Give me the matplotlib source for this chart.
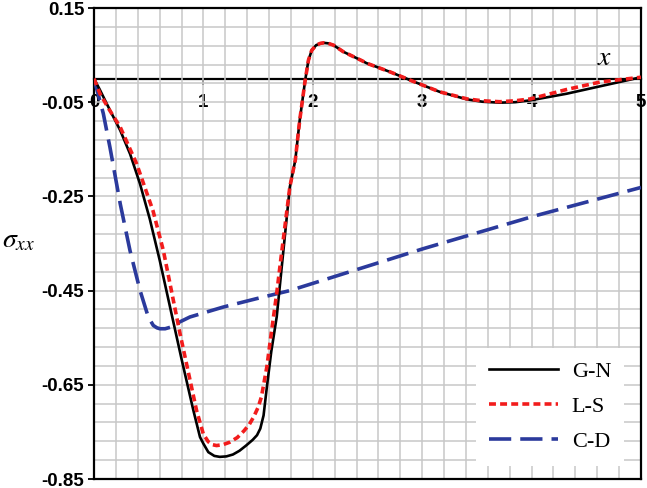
import numpy as np
import matplotlib
matplotlib.use("Agg")
import matplotlib.pyplot as plt

plt.rcParams["mathtext.fontset"] = "stix"
plt.rcParams["lines.scale_dashes"] = False

# G-N
gn_x = [0.0, 0.05, 0.146, 0.24, 0.33, 0.42, 0.51, 0.60, 0.70, 0.80, 0.908,
        0.969, 1.0, 1.045, 1.10, 1.15, 1.21, 1.27, 1.33, 1.39, 1.45, 1.49,
        1.52, 1.55, 1.58, 1.62, 1.67, 1.716, 1.79, 1.84, 1.88, 1.93, 1.96,
        1.99, 2.03, 2.07, 2.10, 2.14, 2.19, 2.28, 2.45, 2.49, 2.71, 2.92,
        3.16, 3.41, 3.55, 3.71, 3.85, 3.99, 4.32, 4.63, 5.0]
gn_y = [0.0, -0.022, -0.067, -0.11, -0.16, -0.223, -0.298, -0.385, -0.49,
        -0.595, -0.704, -0.761, -0.775, -0.793, -0.801, -0.803, -0.802,
        -0.798, -0.790, -0.779, -0.767, -0.757, -0.743, -0.715, -0.655,
        -0.580, -0.506, -0.40, -0.23, -0.173, -0.089, -0.004, 0.039, 0.060,
        0.071, 0.075, 0.076, 0.075, 0.071, 0.057, 0.038, 0.033, 0.014,
        -0.006, -0.028, -0.044, -0.049, -0.051, -0.050, -0.046, -0.032,
        -0.016, 0.003]

# L-S
ls_x = [0.0, 0.055, 0.14, 0.24, 0.39, 0.54, 0.634, 0.786, 0.938, 1.0, 1.045,
        1.08, 1.12, 1.18, 1.24, 1.31, 1.37, 1.42, 1.46, 1.50, 1.53, 1.58,
        1.62, 1.67, 1.71, 1.79, 1.84, 1.88, 1.93, 1.96, 1.99, 2.03, 2.07,
        2.10, 2.14, 2.19, 2.28, 2.45, 2.49, 2.71, 2.92, 3.16, 3.41, 3.55,
        3.71, 3.85, 3.99, 4.32, 4.63, 5.0]
ls_y = [0.0, -0.032, -0.066, -0.103, -0.181, -0.281, -0.365, -0.541, -0.705,
        -0.755, -0.771, -0.777, -0.779, -0.777, -0.772, -0.762, -0.748,
        -0.734, -0.718, -0.698, -0.676, -0.612, -0.541, -0.456, -0.379,
        -0.23, -0.173, -0.089, -0.004, 0.039, 0.060, 0.071, 0.075, 0.076,
        0.075, 0.071, 0.057, 0.038, 0.033, 0.014, -0.006, -0.028, -0.043,
        -0.047, -0.049, -0.047, -0.043, -0.023, -0.007, 0.003]

# C-D
cd_x = [0.0, 0.085, 0.146, 0.24, 0.329, 0.42, 0.496, 0.542, 0.575, 0.603,
        0.65, 0.695, 0.78, 0.877, 1.18, 1.487, 1.79, 3.01, 4.02, 5.0]
cd_y = [0.0, -0.074, -0.146, -0.266, -0.365, -0.449, -0.506, -0.524, -0.529,
        -0.531, -0.531, -0.528, -0.517, -0.506, -0.485, -0.467, -0.450,
        -0.361, -0.292, -0.231]

y_major = [0.15, -0.05, -0.25, -0.45, -0.65, -0.85]
y_labels = ["0.15", "-0.05", "-0.25", "-0.45", "-0.65", "-0.85"]
x_major = [0, 1, 2, 3, 4, 5]

fig = plt.figure(figsize=(6.47, 4.88), dpi=100)
ax = fig.add_axes([94 / 647, 1 - 479 / 488, 547 / 647, 471 / 488])
ax.set_xlim(0, 5)
ax.set_ylim(-0.85, 0.15)

# grid
ax.set_xticks(x_major)
ax.set_xticks(np.arange(0, 5.01, 0.2), minor=True)
ax.set_yticks(y_major)
ax.set_yticklabels(y_labels)
ax.set_yticks(np.arange(-0.85, 0.151, 0.04), minor=True)
ax.grid(which="both", color="#c8c8c8", lw=1.1)
ax.set_axisbelow(True)
ax.tick_params(axis="x", which="both", length=0, labelbottom=False)
ax.tick_params(axis="y", which="minor", length=0)
ax.tick_params(axis="y", which="major", length=4, width=1.3, direction="out", pad=3)
for lab in ax.get_yticklabels():
    lab.set_fontfamily("Liberation Sans")
    lab.set_fontweight("bold")
    lab.set_fontsize(13.5)
for s in ax.spines.values():
    s.set_linewidth(1.6)
    s.set_color("black")

# x axis through zero
sec = ax.secondary_xaxis(0.85)
sec.set_alignment("bottom")
sec.set_xticks(x_major)
sec.tick_params(axis="x", length=4, width=1.3, direction="out", pad=7)
sec.spines["bottom"].set_linewidth(1.6)
for lab in sec.get_xticklabels():
    lab.set_fontfamily("Liberation Sans")
    lab.set_fontweight("bold")
    lab.set_fontsize(13.5)

ax.plot(gn_x, gn_y, color="black", lw=1.9, label="G-N", zorder=4,
        solid_joinstyle="round")
ax.plot(ls_x, ls_y, color="#f21c1c", lw=2.6, dashes=(5, 3), label="L-S",
        zorder=5, dash_joinstyle="round")
ax.plot(cd_x, cd_y, color="#2b3a9c", lw=2.6, dashes=(16, 6.5), label="C-D",
        zorder=3, dash_joinstyle="round")

ax.text(4.67, 0.046, "$x$", fontsize=20, ha="center", va="center")
fig.text(2 / 647, 1 - 247 / 488, r"$\sigma_{xx}$", fontsize=20, ha="left", va="baseline")

leg = ax.legend(loc="lower right", bbox_to_anchor=(0.99, 0.005),
                prop={"family": "Liberation Serif", "size": 16},
                handlelength=3.1, labelspacing=0.65, handletextpad=0.6,
                borderpad=0.6, fancybox=False, framealpha=1.0)
leg.get_frame().set_edgecolor("none")
leg.get_frame().set_facecolor("white")

fig.savefig("out.png", dpi=100)
